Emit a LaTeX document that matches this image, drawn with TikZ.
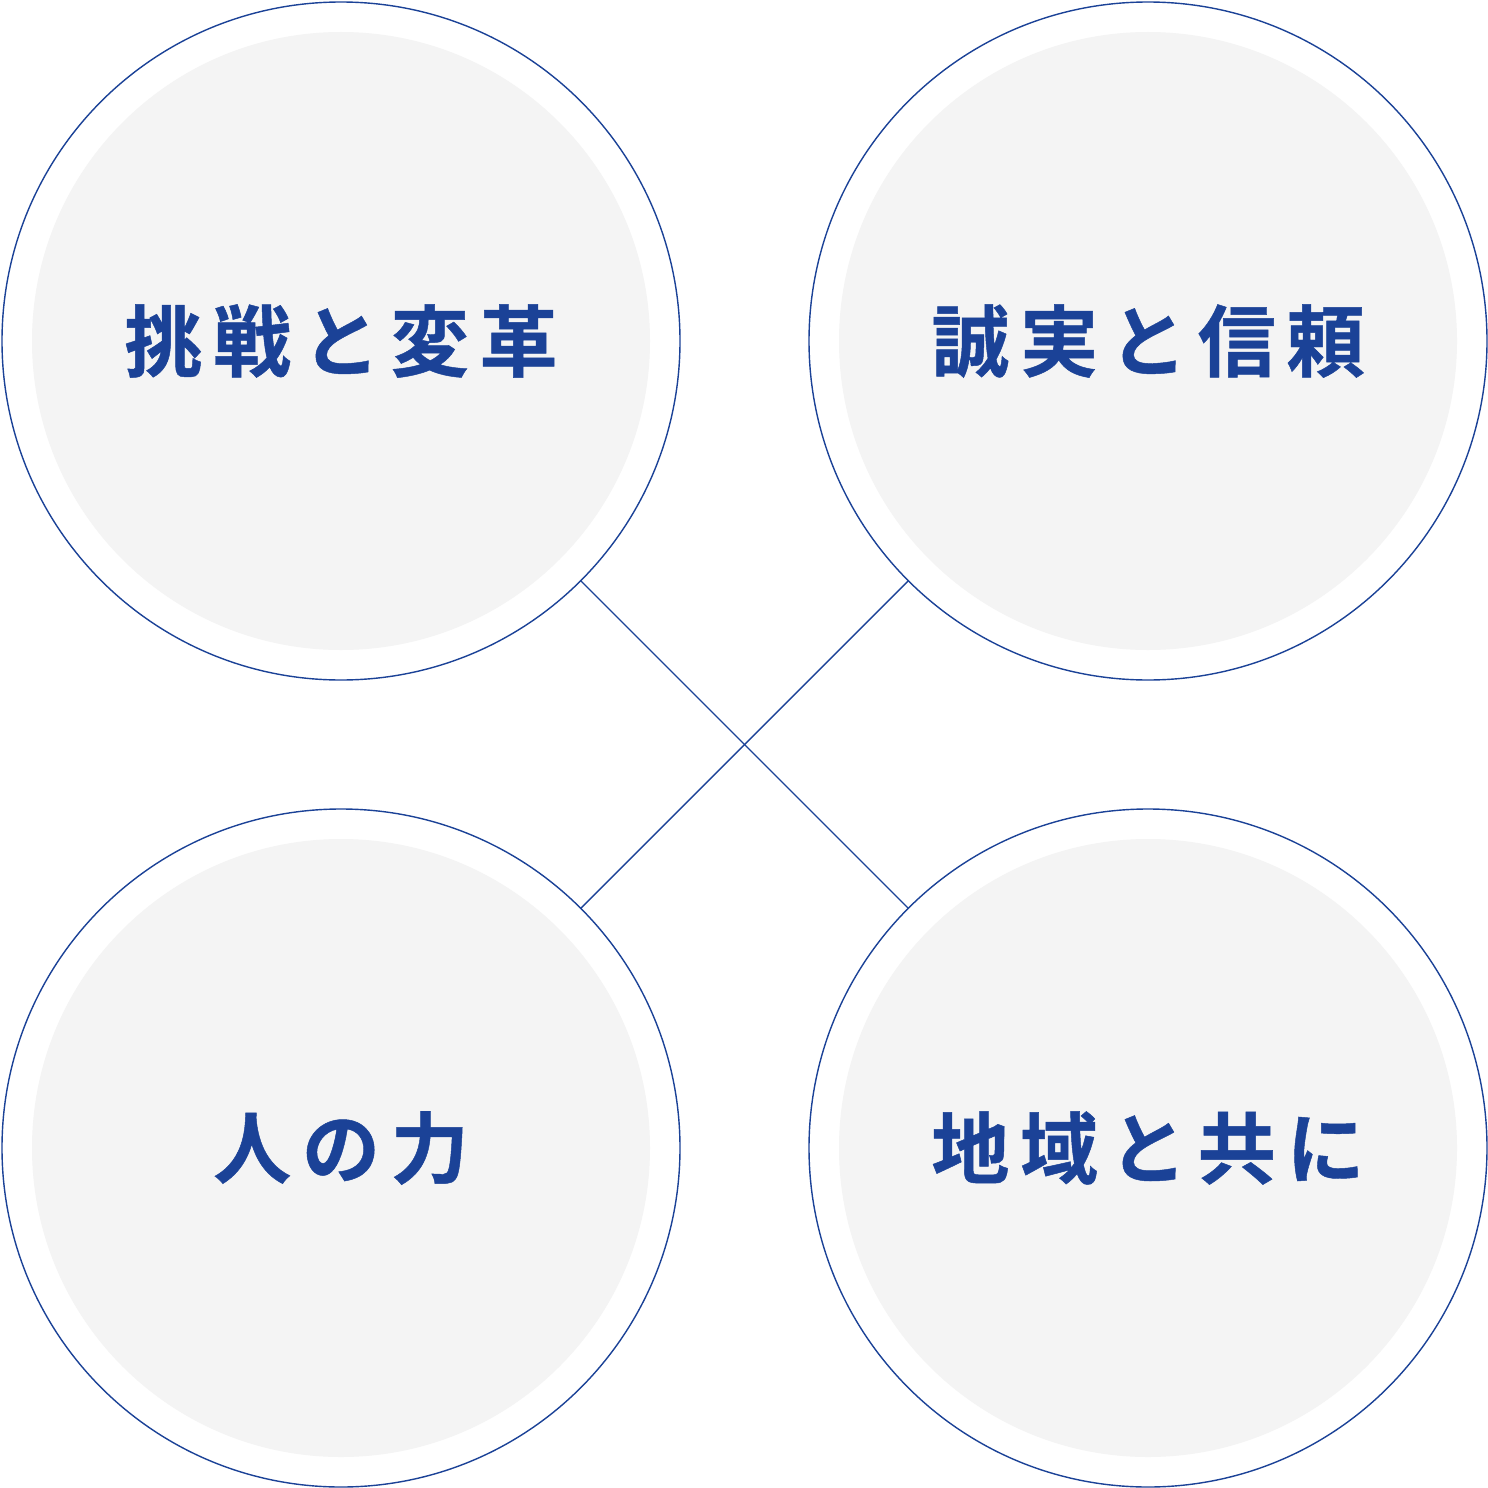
\documentclass[tikz,border=0pt]{standalone}
\usepackage{fontspec}
\newfontfamily\cjk[FakeBold=0.6]{Noto Sans CJK JP Bold}
\definecolor{navy}{HTML}{1B4297}
\definecolor{disc}{HTML}{F4F4F4}
\newcommand{\ksp}{\hspace{10.8pt}}
\begin{document}
\begin{tikzpicture}[x=1pt,y=-1pt,
  outer/.style={circle,draw=navy,line width=1.4pt,fill=white,minimum size=678pt,inner sep=0pt,outer sep=0pt},
  inner/.style={circle,fill=disc,minimum size=618pt,inner sep=0pt},
  lbl/.style={text=navy,font=\cjk\fontsize{78pt}{82pt}\selectfont,inner sep=0pt},
  link/.style={draw=navy,line width=1.4pt}]
\useasboundingbox (0,0) rectangle (1488,1488);
\node[outer] (c1) at (341,341) {};
\node[outer] (c2) at (1148,341) {};
\node[outer] (c3) at (341,1148) {};
\node[outer] (c4) at (1148,1148) {};
\node[inner] (d1) at (341,341) {};
\node[inner] (d2) at (1148,341) {};
\node[inner] (d3) at (341,1148) {};
\node[inner] (d4) at (1148,1148) {};
\draw[link] (c1.south east) -- (c4.north west);
\draw[link] (c2.south west) -- (c3.north east);
\node[lbl] (t1) at (341,341) {挑\ksp 戦\ksp と\ksp 変\ksp 革};
\node[lbl] (t2) at (1148,341) {誠\ksp 実\ksp と\ksp 信\ksp 頼};
\node[lbl] (t3) at (341,1148) {人\ksp の\ksp 力};
\node[lbl] (t4) at (1148,1148) {地\ksp 域\ksp と\ksp 共\ksp に};
\end{tikzpicture}
\end{document}
